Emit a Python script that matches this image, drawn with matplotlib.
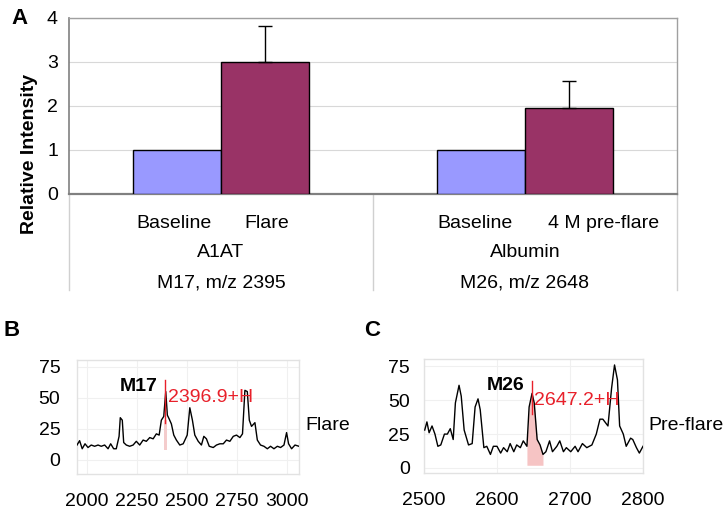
import matplotlib
matplotlib.use("Agg")
import matplotlib.pyplot as plt
import numpy as np

plt.rcParams['font.family'] = ['Liberation Sans', 'DejaVu Sans']

# ---------------- data ----------------
groups = ["A1AT", "Albumin"]
group_sub = ["M17, m/z 2395", "M26, m/z 2648"]
bar_labels = [["Baseline", "Flare"], ["Baseline", "4 M pre-flare"]]
baseline_vals = [1.0, 1.0]
flare_vals = [3.0, 1.95]
flare_err = [0.82, 0.61]
a_yticks = [0, 1, 2, 3, 4]

b_mz = [1952, 1965, 1978, 1992, 2007, 2023, 2040, 2057, 2073, 2090, 2107, 2120,
        2135, 2148, 2162, 2168, 2178, 2185, 2198, 2215, 2232, 2248, 2265, 2282,
        2298, 2315, 2332, 2348, 2362, 2373, 2385, 2395, 2403, 2412, 2423, 2435,
        2448, 2465, 2482, 2502, 2515, 2528, 2540, 2557, 2573, 2585, 2598, 2612,
        2632, 2648, 2665, 2682, 2698, 2715, 2732, 2748, 2765, 2778, 2790, 2802,
        2812, 2823, 2840, 2852, 2868, 2885, 2902, 2918, 2935, 2952, 2968, 2985,
        2998, 3008, 3023, 3040, 3060]
b_int = [12, 15.5, 9, 13, 10, 12, 11, 12, 11, 12, 9, 13,
         9, 9, 19, 34, 32, 14, 12, 11, 12, 15, 12, 16,
         15, 18, 17, 21, 20, 32, 35, 55, 36, 33, 29, 20,
         16, 12, 13, 20, 42, 32, 20, 15, 12, 19, 17, 11,
         10, 12, 13, 13, 16, 15, 19, 20, 18, 21, 56, 55,
         32, 27, 30, 16, 12, 11, 9, 11, 9, 11, 10, 12,
         22, 13, 9, 12, 11]
b_ticks = [2000, 2250, 2500, 2750, 3000]
b_peak = 2393
b_label = "2396.9+H"

c_mz = [2501, 2504, 2507, 2511, 2515, 2519, 2523, 2528, 2532, 2536, 2540, 2543,
        2548, 2551, 2555, 2561, 2566, 2570, 2574, 2577, 2582, 2586, 2591, 2595,
        2600, 2605, 2609, 2614, 2618, 2623, 2627, 2632, 2636, 2641, 2644, 2648,
        2651, 2655, 2659, 2663, 2667, 2672, 2676, 2682, 2686, 2691, 2695, 2701,
        2707, 2711, 2717, 2723, 2730, 2736, 2741, 2745, 2752, 2757, 2761, 2765,
        2768, 2773, 2777, 2783, 2786, 2791, 2795, 2800]
c_int = [28, 34, 26, 31, 25, 16, 17, 25, 25, 29, 21, 48,
         61, 53, 28, 17, 18, 45, 51, 43, 15, 16, 10, 16,
         16, 11, 15, 12, 18, 12, 17, 15, 20, 16, 45, 55,
         48, 21, 17, 10, 12, 20, 12, 16, 20, 12, 15, 12,
         16, 12, 18, 15, 17, 25, 36, 36, 31, 59, 76, 65,
         31, 25, 16, 22, 21, 15, 11, 16]
c_ticks = [2500, 2600, 2700, 2800]
c_peak = 2648
c_label = "2647.2+H"
spec_yticks = [0, 25, 50, 75]

W, H = 727, 509
FS = 14
fig = plt.figure(figsize=(W / 100, H / 100), dpi=100)


def px_axes(l, t, r, b):
    return fig.add_axes([l / W, 1 - b / H, (r - l) / W, (b - t) / H])


# ---------------- Panel A ----------------
axA = px_axes(69, 18, 677, 194)
x = np.arange(len(groups))
bw = 0.29
axA.bar(x - bw / 2, baseline_vals, bw, color="#9999ff", edgecolor="black", lw=1.0, zorder=3)
axA.bar(x + bw / 2, flare_vals, bw, color="#993366", edgecolor="black", lw=1.0, zorder=3)
axA.errorbar(x + bw / 2, flare_vals, yerr=[np.zeros(len(flare_err)), flare_err],
             fmt="none", ecolor="black", elinewidth=1.0, capsize=5, capthick=1.0, zorder=4)
axA.set_xlim(-0.5, 1.5)
axA.set_ylim(0, 4)
axA.set_yticks(a_yticks)
axA.set_yticklabels([str(t) for t in a_yticks], fontsize=FS)
axA.tick_params(axis="y", length=0, pad=8)
axA.set_xticks([])
axA.grid(axis="y", color="#d8d8d8", lw=0.8, zorder=0)
for s in ["top", "right"]:
    axA.spines[s].set_color("#a0a0a0")
    axA.spines[s].set_linewidth(1.0)
axA.spines["left"].set_color("#808080")
axA.spines["left"].set_linewidth(1.2)
axA.spines["bottom"].set_color("#808080")
axA.spines["bottom"].set_linewidth(1.6)
axA.set_ylabel("Relative Intensity", fontsize=FS, fontweight="bold")
axA.yaxis.set_label_coords(-0.051, 0.227)
# category separators
for xs in [-0.5, 0.5, 1.5]:
    axA.plot([xs, xs], [0, -0.545], transform=axA.get_xaxis_transform(), color="#d0d0d0",
             lw=1.0, clip_on=False)
label_off = [[-0.155, 0.151], [-0.164, 0.26]]
for gi in range(len(groups)):
    for bi in range(2):
        axA.text(x[gi] + label_off[gi][bi], -0.165, bar_labels[gi][bi], fontsize=FS,
                 ha="center", va="center", transform=axA.get_xaxis_transform())
    axA.text(x[gi], -0.335, groups[gi], fontsize=FS, ha="center", va="center",
             transform=axA.get_xaxis_transform())
    axA.text(x[gi], -0.505, group_sub[gi], fontsize=FS, ha="center", va="center",
             transform=axA.get_xaxis_transform())
fig.text(20 / W, 1 - 18 / H, "A", fontsize=16, fontweight="bold", ha="center", va="center")


def style_spec(ax):
    for s in ax.spines.values():
        s.set_color("#e2e2e2")
        s.set_linewidth(1.0)
    ax.grid(True, color="#f0f0f0", lw=0.8, zorder=0)
    ax.tick_params(length=0, labelsize=FS)


# ---------------- Panel B ----------------
axB = px_axes(77, 360, 299, 474)
axB.plot(b_mz, b_int, color="black", lw=1.0, zorder=3)
axB.fill_between([b_peak - 7, b_peak + 7], 8, 32, color="#f4cccc", lw=0, zorder=2)
axB.plot([b_peak, b_peak], [30, 64], color="#e8202a", lw=1.0, zorder=4)
axB.set_xlim(1952, 3060)
axB.set_ylim(-11.3, 80.4)
axB.set_xticks(b_ticks)
axB.set_yticks(spec_yticks)
style_spec(axB)
axB.tick_params(axis="y", pad=12)
axB.tick_params(axis="x", pad=14)
axB.text(b_peak + 15, 50, b_label, color="#e8202a", fontsize=FS, ha="left", va="center", zorder=5)
axB.text(2355, 59, "M17", fontsize=FS, fontweight="bold", ha="right", va="center")
fig.text(305 / W, 1 - 426 / H, "Flare", fontsize=FS, ha="left", va="center")
fig.text(12 / W, 1 - 330 / H, "B", fontsize=16, fontweight="bold", ha="center", va="center")

# ---------------- Panel C ----------------
axC = px_axes(424, 359, 643, 473)
axC.plot(c_mz, c_int, color="black", lw=1.0, zorder=3)
c_mz_a = np.array(c_mz)
c_int_a = np.array(c_int, dtype=float)
sel = (c_mz_a >= 2641) & (c_mz_a <= 2663)
axC.fill_between(c_mz_a[sel], 2, c_int_a[sel], color="#f6c4c4", lw=0, zorder=2)
axC.plot([c_peak, c_peak], [40, 64], color="#e8202a", lw=1.0, zorder=4)
axC.set_xlim(2500, 2800)
axC.set_ylim(-3.7, 80.4)
axC.set_xticks(c_ticks)
axC.set_yticks(spec_yticks)
style_spec(axC)
axC.tick_params(axis="y", pad=10)
axC.tick_params(axis="x", pad=14)
axC.text(c_peak + 3, 50, c_label, color="#e8202a", fontsize=FS, ha="left", va="center", zorder=5)
axC.text(2637, 61, "M26", fontsize=FS, fontweight="bold", ha="right", va="center")
fig.text(648 / W, 1 - 425 / H, "Pre-flare", fontsize=FS, ha="left", va="center")
fig.text(372 / W, 1 - 330 / H, "C", fontsize=16, fontweight="bold", ha="center", va="center")

fig.savefig("out.png", dpi=100)
